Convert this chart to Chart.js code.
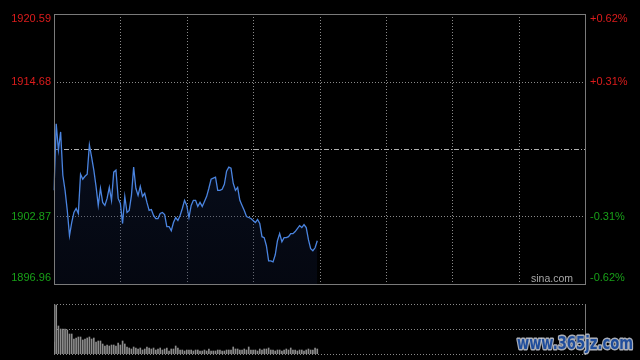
<!DOCTYPE html>
<html>
<head>
<meta charset="utf-8">
<script src="https://cdn.jsdelivr.net/npm/chart.js@4.4.1/dist/chart.umd.min.js"></script>
<style>
  html, body { margin: 0; padding: 0; background: #000; width: 640px; height: 360px; overflow: hidden; }
  #price { position: absolute; left: 0; top: 0; }
  #vol { position: absolute; left: 0; top: 290px; }
</style>
</head>
<body>
<canvas id="price" width="640" height="290"></canvas>
<canvas id="vol" width="640" height="70"></canvas>
<script>
// minute prices, morning session
const prices = [
  1905.16, 1910.98, 1908.69, 1910.27, 1906.48, 1905.16, 1903.40, 1901.19, 1902.34, 1903.22,
  1903.57, 1903.13, 1906.57, 1906.13, 1906.39, 1906.57, 1909.13, 1908.07, 1906.92, 1905.51,
  1903.84, 1905.34, 1904.10, 1903.84, 1904.45, 1905.42, 1904.28, 1906.75, 1906.92, 1904.45,
  1904.01, 1902.25, 1904.63, 1903.22, 1903.40, 1904.72, 1907.19, 1905.34, 1904.72, 1905.51,
  1904.63, 1904.90, 1904.10, 1903.40, 1903.48, 1902.96, 1902.69, 1902.69, 1903.13, 1903.22,
  1903.04, 1901.99, 1901.99, 1901.63, 1902.34, 1902.78, 1902.52, 1902.96, 1903.57, 1904.28,
  1903.84, 1902.78, 1903.84, 1904.28, 1904.28, 1903.75, 1904.10, 1903.75, 1904.19, 1904.63,
  1905.34, 1906.13, 1906.22, 1906.31, 1905.16, 1905.16, 1905.25, 1905.69, 1906.84, 1907.19,
  1907.10, 1905.78, 1905.16, 1905.42, 1904.28, 1903.84, 1903.40, 1902.87, 1902.78, 1902.69,
  1902.52, 1902.34, 1902.60, 1902.25, 1901.10, 1901.02, 1900.31, 1898.99, 1898.99, 1898.90,
  1899.52, 1900.75, 1901.37, 1900.66, 1901.02, 1901.02, 1901.10, 1901.37, 1901.37, 1901.55,
  1901.81, 1902.07, 1901.90, 1902.16, 1901.90, 1900.84, 1900.05, 1899.87, 1900.13, 1900.75
];

const volumes = [
  1200, 4900, 2800, 2500, 2500, 2500, 2400, 2000, 2000, 1500, 1600, 1700, 1700, 1400, 1500, 1600, 1700, 1500, 1600, 1200,
  1300, 1300, 1000, 800, 900, 800, 900, 900, 800, 1100, 900, 1300, 1000, 700, 600, 500, 700, 600, 500, 600,
  400, 500, 700, 600, 500, 600, 400, 500, 600, 400, 500, 600, 300, 500, 500, 800, 600, 400, 400, 300,
  400, 400, 400, 300, 400, 400, 300, 300, 400, 300, 500, 300, 300, 300, 400, 400, 300, 300, 400, 400,
  400, 700, 500, 500, 400, 400, 500, 400, 700, 400, 400, 400, 300, 500, 400, 500, 500, 600, 400, 400,
  300, 400, 400, 300, 400, 500, 400, 600, 400, 400, 300, 400, 400, 300, 400, 500, 400, 400, 600, 500
];

const prevClose = 1908.775;
const priceTicks = [1920.59, 1914.68, 1908.775, 1902.87, 1896.96];
const priceLabels = ['1920.59', '1914.68', '', '1902.87', '1896.96'];
const pctLabels = ['+0.62%', '+0.31%', '', '-0.31%', '-0.62%'];
const volTicks = [5000, 2500, 0];

// 09:30-11:30, 13:01-15:00
const times = [];
for (let m = 0; m <= 240; m++) {
  const t = m <= 120 ? 570 + m : 780 + (m - 120);
  times.push(String(Math.floor(t / 60)).padStart(2, '0') + ':' + String(t % 60).padStart(2, '0'));
}

const RED = '#dc1c1c';
const GREEN = '#18a018';
const GRID = '#8a8a8a';
const FRAME = '#7a7a7a';

function hline(ctx, x1, x2, y, dash, color) {
  ctx.save();
  ctx.strokeStyle = color;
  ctx.lineWidth = 1;
  ctx.setLineDash(dash);
  ctx.beginPath();
  ctx.moveTo(x1, Math.round(y) + 0.5);
  ctx.lineTo(x2, Math.round(y) + 0.5);
  ctx.stroke();
  ctx.restore();
}

function vline(ctx, x, y1, y2, dash, color) {
  ctx.save();
  ctx.strokeStyle = color;
  ctx.lineWidth = 1;
  ctx.setLineDash(dash);
  ctx.beginPath();
  ctx.moveTo(Math.round(x) + 0.5, y1);
  ctx.lineTo(Math.round(x) + 0.5, y2);
  ctx.stroke();
  ctx.restore();
}

const priceFrame = {
  id: 'priceFrame',
  beforeDatasetsDraw(chart) {
    const {ctx, chartArea: a, scales: {x, y}} = chart;
    for (let i = 30; i < 240; i += 30) {
      vline(ctx, x.getPixelForValue(i), a.top, a.bottom, [1, 2], GRID);
    }
    priceTicks.forEach((v, i) => {
      if (i === 0 || i === priceTicks.length - 1) return;
      const py = y.getPixelForValue(v);
      if (v === prevClose) hline(ctx, a.left, a.right, py, [5, 2, 1, 2], '#b0b0b0');
      else hline(ctx, a.left, a.right, py, [1, 2], GRID);
    });
  },
  afterDraw(chart) {
    const {ctx, chartArea: a, scales: {y}} = chart;
    ctx.save();
    ctx.strokeStyle = FRAME;
    ctx.lineWidth = 1;
    ctx.strokeRect(Math.round(a.left) + 0.5, Math.round(a.top) + 0.5,
      Math.round(a.right - a.left), Math.round(a.bottom - a.top));
    ctx.font = '11px "Liberation Sans", Arial, sans-serif';
    ctx.textBaseline = 'middle';
    priceTicks.forEach((v, i) => {
      if (!priceLabels[i]) return;
      let py = y.getPixelForValue(v);
      py = Math.max(a.top + 5, Math.min(a.bottom - 6, py));
      ctx.fillStyle = v > prevClose ? RED : GREEN;
      ctx.textAlign = 'right';
      ctx.fillText(priceLabels[i], a.left - 3, py);
      ctx.textAlign = 'left';
      ctx.fillText(pctLabels[i], a.right + 5, py);
    });
    ctx.fillStyle = '#a8a8a8';
    ctx.font = '10.5px "Liberation Sans", Arial, sans-serif';
    ctx.textAlign = 'right';
    ctx.fillText('sina.com', a.right - 12, a.bottom - 5);
    ctx.restore();
  }
};

new Chart(document.getElementById('price'), {
  type: 'line',
  data: {
    labels: times,
    datasets: [{
      data: prices,
      borderColor: '#4a84e0',
      borderWidth: 1.3,
      pointRadius: 0,
      tension: 0,
      fill: 'start',
      backgroundColor: (c) => {
        const a = c.chart.chartArea;
        if (!a) return 'rgba(20,35,70,0.3)';
        const g = c.chart.ctx.createLinearGradient(0, a.top, 0, a.bottom);
        g.addColorStop(0, 'rgba(30,55,110,0.35)');
        g.addColorStop(1, 'rgba(15,25,55,0.3)');
        return g;
      }
    }]
  },
  options: {
    responsive: false,
    animation: false,
    devicePixelRatio: 1,
    layout: {padding: {left: 54, right: 55, top: 14, bottom: 6}},
    plugins: {legend: {display: false}, tooltip: {enabled: false}},
    scales: {
      x: {type: 'category', display: false, offset: false},
      y: {display: false, min: 1896.96, max: 1920.59}
    }
  },
  plugins: [priceFrame]
});

const volFrame = {
  id: 'volFrame',
  beforeDatasetsDraw(chart) {
    const {ctx, chartArea: a, scales: {y}} = chart;
    volTicks.forEach(v => hline(ctx, a.left, a.right, y.getPixelForValue(v), [1, 2], GRID));
    vline(ctx, a.left, y.getPixelForValue(5000), y.getPixelForValue(0) + 1, [], FRAME);
    vline(ctx, a.right, y.getPixelForValue(5000), y.getPixelForValue(0) + 1, [], FRAME);
  },
  afterDraw(chart) {
    const {ctx} = chart;
    ctx.save();
    ctx.font = 'bold 17px "DejaVu Sans", sans-serif';
    ctx.textAlign = 'left';
    ctx.textBaseline = 'alphabetic';
    ctx.lineWidth = 3;
    ctx.lineJoin = 'round';
    ctx.strokeStyle = 'rgba(200,205,215,0.85)';
    ctx.strokeText('www.365jz.com', 517, 59, 116);
    ctx.fillStyle = '#1f4d9c';
    ctx.fillText('www.365jz.com', 517, 59, 116);
    ctx.restore();
  }
};

new Chart(document.getElementById('vol'), {
  type: 'bar',
  data: {
    labels: times,
    datasets: [{
      data: volumes,
      backgroundColor: '#8c8c8c',
      barThickness: 1
    }]
  },
  options: {
    responsive: false,
    animation: false,
    devicePixelRatio: 1,
    layout: {padding: {left: 54, right: 55, top: 14, bottom: 6}},
    plugins: {legend: {display: false}, tooltip: {enabled: false}},
    scales: {
      x: {type: 'category', display: false, offset: false},
      y: {display: false, min: 0, max: 5000}
    }
  },
  plugins: [volFrame]
});
</script>
</body>
</html>
